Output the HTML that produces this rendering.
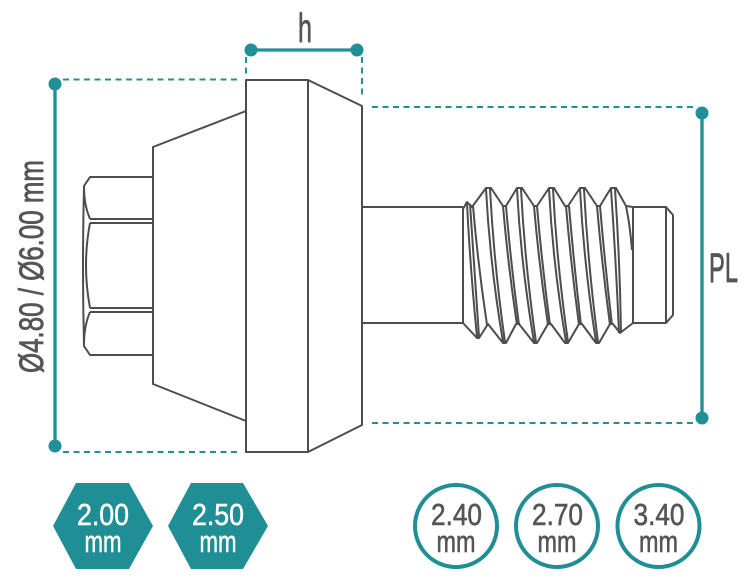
<!DOCTYPE html>
<html>
<head>
<meta charset="utf-8">
<style>
  html,body{margin:0;padding:0;background:#fff;}
  body{width:753px;height:581px;overflow:hidden;}
  svg{display:block;}
  text{font-family:"Liberation Sans Narrow","Liberation Sans",sans-serif;}
</style>
</head>
<body>
<svg width="753" height="581" viewBox="0 0 753 581" xmlns="http://www.w3.org/2000/svg">
  <rect width="753" height="581" fill="#fff"/>

  <!-- Dimension lines (teal) -->
  <g stroke="#1e9096" fill="none">
    <line x1="251" y1="50" x2="357" y2="50" stroke-width="3.3"/>
    <line x1="55" y1="84" x2="55" y2="446" stroke-width="3.3"/>
    <line x1="702" y1="113" x2="702" y2="418" stroke-width="3.3"/>
    <g stroke-width="2" stroke-dasharray="6 4.5">
      <line x1="246" y1="57" x2="246" y2="75"/>
      <line x1="362" y1="57" x2="362" y2="95"/>
      <line x1="63" y1="79.5" x2="238" y2="79.5"/>
      <line x1="63" y1="452" x2="238" y2="452"/>
      <line x1="372" y1="107" x2="696" y2="107"/>
      <line x1="372" y1="423" x2="696" y2="423"/>
    </g>
  </g>
  <g fill="#1e9096">
    <circle cx="251" cy="50" r="6.5"/>
    <circle cx="357" cy="50" r="6.5"/>
    <circle cx="55" cy="84" r="6.5"/>
    <circle cx="55" cy="446" r="6.5"/>
    <circle cx="702" cy="113" r="6.5"/>
    <circle cx="702" cy="418" r="6.5"/>
  </g>

  <!-- Labels -->
  <g fill="#555" stroke="#555" stroke-width="0.8">
    <text x="298" y="42" font-size="41" textLength="14" lengthAdjust="spacingAndGlyphs">h</text>
    <text x="709" y="282" font-size="42" textLength="29" lengthAdjust="spacingAndGlyphs">PL</text>
    <text transform="translate(43,373) rotate(-90)" x="0" y="0" font-size="34" textLength="213" lengthAdjust="spacingAndGlyphs">Ø4.80 / Ø6.00 mm</text>
  </g>

  <!-- Part drawing -->
  <g stroke="#4d4d4d" stroke-width="2" fill="none" stroke-linejoin="round">
    <!-- flange -->
    <path d="M246,80 H308 V452 H246 Z"/>
    <path d="M308,80 L362,106 V425 L308,452"/>
    <!-- cone -->
    <path d="M246,111 L153,147 V384 L246,421"/>
    <!-- hex -->
    <path d="M153,177 H90 L84,186 Q82,266 84,346 L90,355 H153"/>
    <path d="M84,188 Q84,205 90,219"/>
    <path d="M90,223 Q82,265 90,308"/>
    <path d="M90,312 Q84,326 84,344"/>
    <line x1="90" y1="219" x2="153" y2="219"/>
    <line x1="90" y1="223" x2="153" y2="223"/>
    <line x1="90" y1="308" x2="153" y2="308"/>
    <line x1="90" y1="312" x2="153" y2="312"/>
    <!-- shank -->
    <line x1="362" y1="207" x2="463" y2="207"/>
    <line x1="362" y1="323" x2="463" y2="323"/>
    <!-- thread profile -->
    <path d="M463,323 V209 L467,202 L472,207 L486,188 L491,188 L503,206 L506,206 L517,188 L522,188 L534,206 L537,206 L549,188 L554,188 L565,206 L568,206 L580,188 L585,188 L597,206 L600,206 L611,188 L616,188 L626,206 L633,207"/>
    <path d="M463,323 L477,338 L479,338 L488,324 L503,343 L506,343 L516,324 L519,324 L534,343 L537,343 L548,324 L551,324 L565,343 L568,343 L579,324 L582,324 L596,343 L599,343 L610,324 L613,324 L620,333 L633,323"/>
    <!-- helix lines -->
    <path d="M467,203 Q470,265 477,337 M470,204 Q474,265 479,337 M473,206 Q478,265 487,325"/>
    <path d="M486,189 Q490,265 503,342 M490,189 Q494,265 505,342 M503,206 Q508,265 517,325 M506,206 Q511,265 519,325"/>
    <path d="M517,189 Q521,265 534,342 M521,189 Q525,265 536,342 M534,206 Q539,265 548,325 M537,206 Q542,265 550,325"/>
    <path d="M549,189 Q553,265 566,342 M553,189 Q557,265 568,342 M566,206 Q571,265 579,325 M569,206 Q574,265 581,325"/>
    <path d="M580,189 Q584,265 596,342 M584,189 Q588,265 598,342 M597,206 Q602,265 610,325 M600,206 Q605,265 612,325"/>
    <path d="M611,189 Q616,262 619,333 M615,189 Q620,262 621,333 M626,206 Q630,225 632,250"/>
    <!-- tip -->
    <path d="M633,207 V323"/>
    <path d="M633,207 H666 L673,215 V315 L666,323 H633"/>
    <line x1="666" y1="207" x2="666" y2="323"/>
  </g>

  <!-- Hex badges -->
  <polygon points="53,526 76,483 129,483 153,526 129,569 76,569" fill="#1f8f95"/>
  <polygon points="168,526 191,483 243,483 268,526 243,569 191,569" fill="#1f8f95"/>
  <g fill="#fff" stroke="#fff" stroke-width="0.5" text-anchor="middle">
    <text x="103" y="525" font-size="31" textLength="52" lengthAdjust="spacingAndGlyphs">2.00</text>
    <text x="103" y="552" font-size="31" textLength="37" lengthAdjust="spacingAndGlyphs">mm</text>
    <text x="218" y="525" font-size="31" textLength="52" lengthAdjust="spacingAndGlyphs">2.50</text>
    <text x="218" y="552" font-size="31" textLength="37" lengthAdjust="spacingAndGlyphs">mm</text>
  </g>

  <!-- Circle badges -->
  <g fill="none" stroke="#1f8f95" stroke-width="4">
    <circle cx="456" cy="526" r="41"/>
    <circle cx="557" cy="526" r="41"/>
    <circle cx="658.5" cy="526" r="41"/>
  </g>
  <g fill="#555" stroke="#555" stroke-width="0.6" text-anchor="middle">
    <text x="456.5" y="525" font-size="31" textLength="51" lengthAdjust="spacingAndGlyphs">2.40</text>
    <text x="456" y="552" font-size="31" textLength="39" lengthAdjust="spacingAndGlyphs">mm</text>
    <text x="557.5" y="525" font-size="31" textLength="51" lengthAdjust="spacingAndGlyphs">2.70</text>
    <text x="557" y="552" font-size="31" textLength="39" lengthAdjust="spacingAndGlyphs">mm</text>
    <text x="659" y="525" font-size="31" textLength="51" lengthAdjust="spacingAndGlyphs">3.40</text>
    <text x="658.5" y="552" font-size="31" textLength="39" lengthAdjust="spacingAndGlyphs">mm</text>
  </g>
</svg>
</body>
</html>
